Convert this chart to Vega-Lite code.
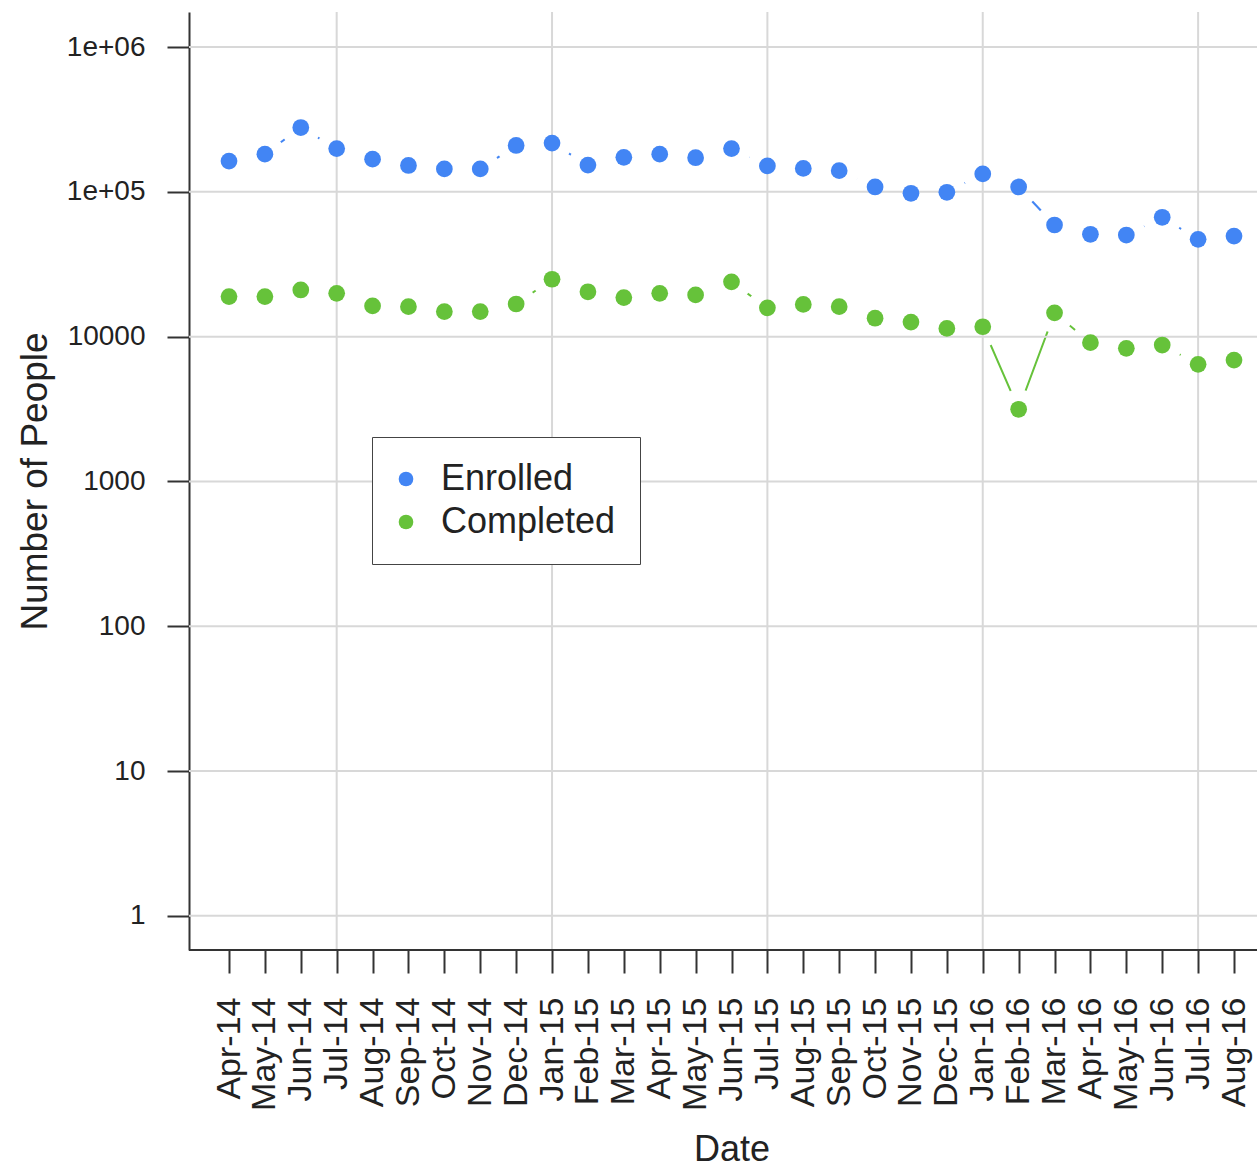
{
  "$schema": "https://vega.github.io/schema/vega-lite/v6.json",
  "autosize": "none",
  "width": 1068,
  "height": 938,
  "padding": {"left": 189, "top": 12, "right": 0, "bottom": 219},
  "background": "white",
  "config": {
    "font": "Liberation Sans",
    "view": {"stroke": null},
    "axis": {"labelFont": "Liberation Sans", "titleFont": "Liberation Sans", "labelColor": "#222", "titleColor": "#222", "titleFontWeight": "normal"}
  },
  "data": {"values": [
    {"month": "Apr-14", "series": "Enrolled", "value": 163000},
    {"month": "May-14", "series": "Enrolled", "value": 182000},
    {"month": "Jun-14", "series": "Enrolled", "value": 278000},
    {"month": "Jul-14", "series": "Enrolled", "value": 199000},
    {"month": "Aug-14", "series": "Enrolled", "value": 168000},
    {"month": "Sep-14", "series": "Enrolled", "value": 152000},
    {"month": "Oct-14", "series": "Enrolled", "value": 144000},
    {"month": "Nov-14", "series": "Enrolled", "value": 144000},
    {"month": "Dec-14", "series": "Enrolled", "value": 209000},
    {"month": "Jan-15", "series": "Enrolled", "value": 217000},
    {"month": "Feb-15", "series": "Enrolled", "value": 153000},
    {"month": "Mar-15", "series": "Enrolled", "value": 173000},
    {"month": "Apr-15", "series": "Enrolled", "value": 182000},
    {"month": "May-15", "series": "Enrolled", "value": 172000},
    {"month": "Jun-15", "series": "Enrolled", "value": 199000},
    {"month": "Jul-15", "series": "Enrolled", "value": 151000},
    {"month": "Aug-15", "series": "Enrolled", "value": 145000},
    {"month": "Sep-15", "series": "Enrolled", "value": 140000},
    {"month": "Oct-15", "series": "Enrolled", "value": 108000},
    {"month": "Nov-15", "series": "Enrolled", "value": 97700},
    {"month": "Dec-15", "series": "Enrolled", "value": 99300},
    {"month": "Jan-16", "series": "Enrolled", "value": 133000},
    {"month": "Feb-16", "series": "Enrolled", "value": 108000},
    {"month": "Mar-16", "series": "Enrolled", "value": 59000},
    {"month": "Apr-16", "series": "Enrolled", "value": 50900},
    {"month": "May-16", "series": "Enrolled", "value": 50300},
    {"month": "Jun-16", "series": "Enrolled", "value": 66700},
    {"month": "Jul-16", "series": "Enrolled", "value": 47000},
    {"month": "Aug-16", "series": "Enrolled", "value": 49500},
    {"month": "Apr-14", "series": "Completed", "value": 18900},
    {"month": "May-14", "series": "Completed", "value": 18900},
    {"month": "Jun-14", "series": "Completed", "value": 21000},
    {"month": "Jul-14", "series": "Completed", "value": 19900},
    {"month": "Aug-14", "series": "Completed", "value": 16300},
    {"month": "Sep-14", "series": "Completed", "value": 16100},
    {"month": "Oct-14", "series": "Completed", "value": 14900},
    {"month": "Nov-14", "series": "Completed", "value": 14900},
    {"month": "Dec-14", "series": "Completed", "value": 16800},
    {"month": "Jan-15", "series": "Completed", "value": 24900},
    {"month": "Feb-15", "series": "Completed", "value": 20400},
    {"month": "Mar-15", "series": "Completed", "value": 18600},
    {"month": "Apr-15", "series": "Completed", "value": 19900},
    {"month": "May-15", "series": "Completed", "value": 19400},
    {"month": "Jun-15", "series": "Completed", "value": 23900},
    {"month": "Jul-15", "series": "Completed", "value": 15800},
    {"month": "Aug-15", "series": "Completed", "value": 16700},
    {"month": "Sep-15", "series": "Completed", "value": 16100},
    {"month": "Oct-15", "series": "Completed", "value": 13400},
    {"month": "Nov-15", "series": "Completed", "value": 12600},
    {"month": "Dec-15", "series": "Completed", "value": 11400},
    {"month": "Jan-16", "series": "Completed", "value": 11700},
    {"month": "Feb-16", "series": "Completed", "value": 3150},
    {"month": "Mar-16", "series": "Completed", "value": 14600},
    {"month": "Apr-16", "series": "Completed", "value": 9080},
    {"month": "May-16", "series": "Completed", "value": 8300},
    {"month": "Jun-16", "series": "Completed", "value": 8750},
    {"month": "Jul-16", "series": "Completed", "value": 6440},
    {"month": "Aug-16", "series": "Completed", "value": 6890}
  ]},
  "layer": [
    {
      "mark": {"type": "line", "strokeWidth": 2},
      "encoding": {
        "x": {"field": "month", "type": "ordinal", "title": "Date",
          "scale": {"type": "point", "range": [40, 1045], "padding": 0, "domain": ["Apr-14","May-14","Jun-14","Jul-14","Aug-14","Sep-14","Oct-14","Nov-14","Dec-14","Jan-15","Feb-15","Mar-15","Apr-15","May-15","Jun-15","Jul-15","Aug-15","Sep-15","Oct-15","Nov-15","Dec-15","Jan-16","Feb-16","Mar-16","Apr-16","May-16","Jun-16","Jul-16","Aug-16"]}},
        "y": {"field": "value", "type": "quantitative", "title": "Number of People",
          "scale": {"type": "log", "domain": [0.581, 1745000], "nice": false}},
        "color": {"field": "series", "type": "nominal",
          "scale": {"domain": ["Enrolled", "Completed"], "range": ["#4285F4", "#66C23A"]}},
        "detail": {"field": "series"}
      }
    },
    {
      "mark": {"type": "point", "filled": true, "color": "white", "opacity": 1, "size": 1600},
      "encoding": {
        "x": {"field": "month", "type": "ordinal", "title": "Date"},
        "y": {"field": "value", "type": "quantitative", "title": "Number of People"}
      }
    },
    {
      "data": {"values": [{"month": "Jul-14"}, {"month": "Jan-15"}, {"month": "Jul-15"}, {"month": "Jan-16"}, {"month": "Jul-16"}]},
      "mark": {"type": "rule", "color": "#d8d8d8", "strokeWidth": 2},
      "encoding": {"x": {"field": "month", "type": "ordinal", "title": "Date"}}
    },
    {
      "data": {"values": [{"value": 1}, {"value": 10}, {"value": 100}, {"value": 1000}, {"value": 10000}, {"value": 100000}, {"value": 1000000}]},
      "mark": {"type": "rule", "color": "#d8d8d8", "strokeWidth": 2},
      "encoding": {"y": {"field": "value", "type": "quantitative", "title": "Number of People"}}
    },
    {
      "data": {"values": [{"value": 0.581}]},
      "mark": {"type": "rule", "color": "#333", "strokeWidth": 2},
      "encoding": {"y": {"field": "value", "type": "quantitative", "title": "Number of People"}}
    },
    {
      "mark": {"type": "point", "filled": true, "opacity": 1, "size": 280, "shape": "circle"},
      "encoding": {
        "x": {"field": "month", "type": "ordinal", "title": "Date",
          "axis": {"labelAngle": -90, "labelFontSize": 34, "titleFontSize": 36, "labelPadding": 24, "tickSize": 23, "tickWidth": 2, "tickColor": "#333", "domain": false, "grid": false, "titlePadding": 22, "labelColor": "#222"}},
        "y": {"field": "value", "type": "quantitative", "title": "Number of People",
          "axis": {"values": [1, 10, 100, 1000, 10000, 100000, 1000000], "labelExpr": "datum.value >= 1000000 ? '1e+06' : (datum.value >= 100000 ? '1e+05' : format(datum.value, 'd'))", "labelFontSize": 28, "titleFontSize": 37, "labelPadding": 22, "tickSize": 22, "tickWidth": 2, "tickColor": "#333", "domainColor": "#333", "domainWidth": 2, "grid": false, "titlePadding": 12}},
        "color": {"field": "series", "type": "nominal",
          "legend": {"title": null, "orient": "none", "legendX": 183, "legendY": 425, "labelFontSize": 36, "labelFont": "Liberation Sans", "labelColor": "#222", "labelLimit": 400, "symbolType": "circle", "symbolSize": 215, "symbolStrokeWidth": 0, "symbolOpacity": 1, "symbolOffset": -8, "strokeColor": "#444", "fillColor": "white", "padding": 24, "rowPadding": 7, "labelOffset": 17}}
      }
    }
  ]
}
